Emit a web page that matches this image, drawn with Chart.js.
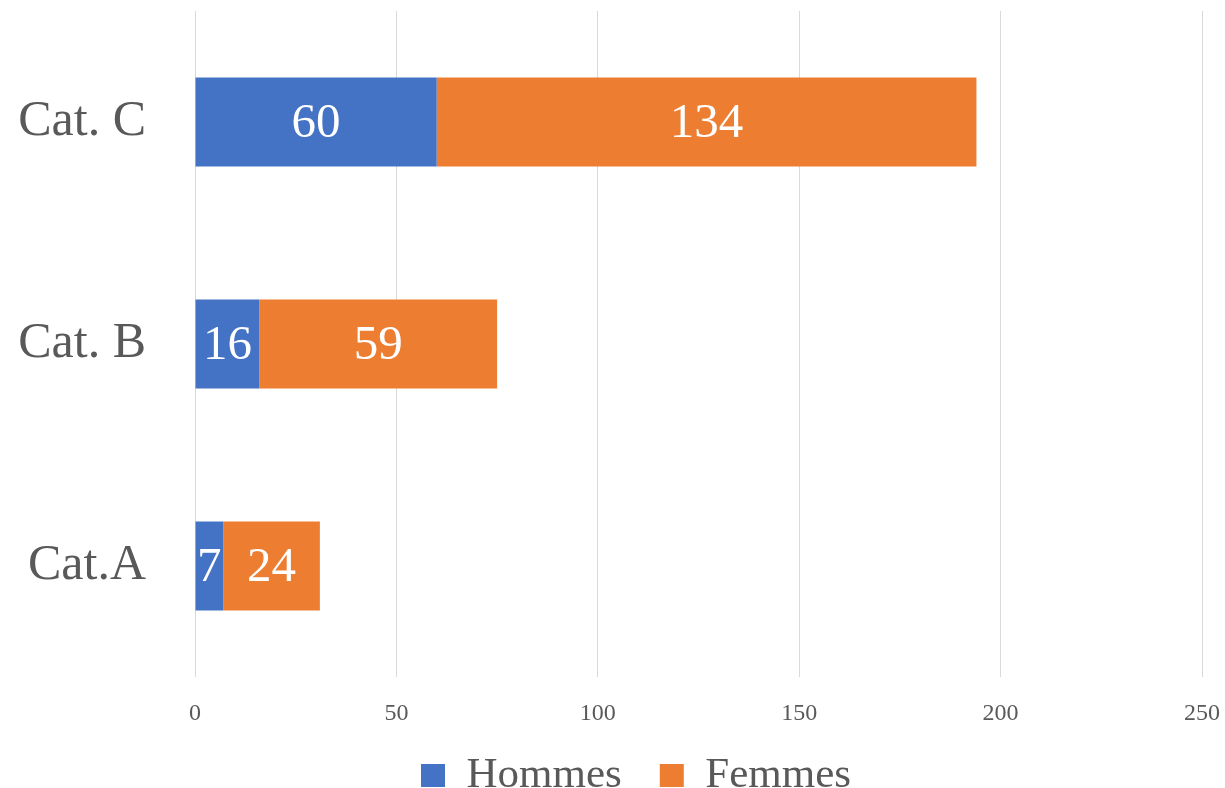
<!DOCTYPE html>
<html>
<head>
<meta charset="utf-8">
<script src="https://cdn.jsdelivr.net/npm/chart.js@4/dist/chart.umd.min.js"></script>
<style>
html,body{margin:0;padding:0;background:#fff;}
#wrap{width:1225px;height:788px;position:relative;}
</style>
</head>
<body>
<div id="wrap"><canvas id="c"></canvas></div>
<script>
const categories = ['Cat. C', 'Cat. B', 'Cat.A'];
const hommes = [60, 16, 7];
const femmes = [134, 59, 24];
const seriesNames = ['Hommes', 'Femmes'];
const xMax = 250;
const xStep = 50;

const FONT = "'Liberation Serif', 'DejaVu Serif', serif";

const barLabels = {
  id: 'barLabels',
  afterDatasetsDraw(chart) {
    const ctx = chart.ctx;
    ctx.save();
    ctx.fillStyle = '#ffffff';
    ctx.font = "49px " + FONT;
    ctx.textAlign = 'center';
    ctx.textBaseline = 'middle';
    chart.data.datasets.forEach((ds, di) => {
      const meta = chart.getDatasetMeta(di);
      meta.data.forEach((el, i) => {
        const p = el.getProps(['x', 'y', 'base'], true);
        const cx = (p.x + p.base) / 2;
        ctx.fillText(String(ds.data[i]), cx, p.y + 2);
      });
    });
    ctx.restore();
  }
};

const legendShift = {
  id: 'legendShift',
  afterLayout(chart) {
    const lg = chart.legend;
    if (!lg) return;
    lg.left += 35; lg.right += 35;
    lg.top -= 13; lg.bottom -= 13;
  }
};

new Chart(document.getElementById('c'), {
  type: 'bar',
  data: {
    labels: categories,
    datasets: [
      { label: seriesNames[0], data: hommes, backgroundColor: '#4472C4', borderWidth: 0 },
      { label: seriesNames[1], data: femmes, backgroundColor: '#ED7D31', borderWidth: 0 }
    ]
  },
  options: {
    indexAxis: 'y',
    responsive: true,
    maintainAspectRatio: false,
    animation: false,
    barPercentage: 0.4,
    categoryPercentage: 1,
    layout: { padding: { left: 0, right: 23, top: 11, bottom: -32 } },
    scales: {
      x: {
        stacked: true,
        min: 0,
        max: xMax,
        ticks: { stepSize: xStep, color: '#595959', font: { family: FONT, size: 24 }, padding: 22 },
        grid: { color: '#d9d9d9', lineWidth: 1, drawTicks: false },
        border: { display: false },
        afterFit(scale) { scale.height = 52; scale.paddingLeft = 0; scale.paddingRight = 0; }
      },
      y: {
        stacked: true,
        ticks: { color: '#595959', font: { family: FONT, size: 50 }, padding: 49 },
        grid: { display: false, drawTicks: false },
        border: { display: false },
        afterFit(scale) { scale.width = 195; scale.paddingTop = 0; scale.paddingBottom = 0; }
      }
    },
    plugins: {
      legend: {
        position: 'bottom',
        labels: {
          color: '#595959',
          font: { family: FONT, size: 43 },
          boxWidth: 24,
          boxHeight: 23,
          padding: 38
        }
      },
      tooltip: { enabled: false }
    }
  },
  plugins: [barLabels, legendShift]
});
</script>
</body>
</html>
